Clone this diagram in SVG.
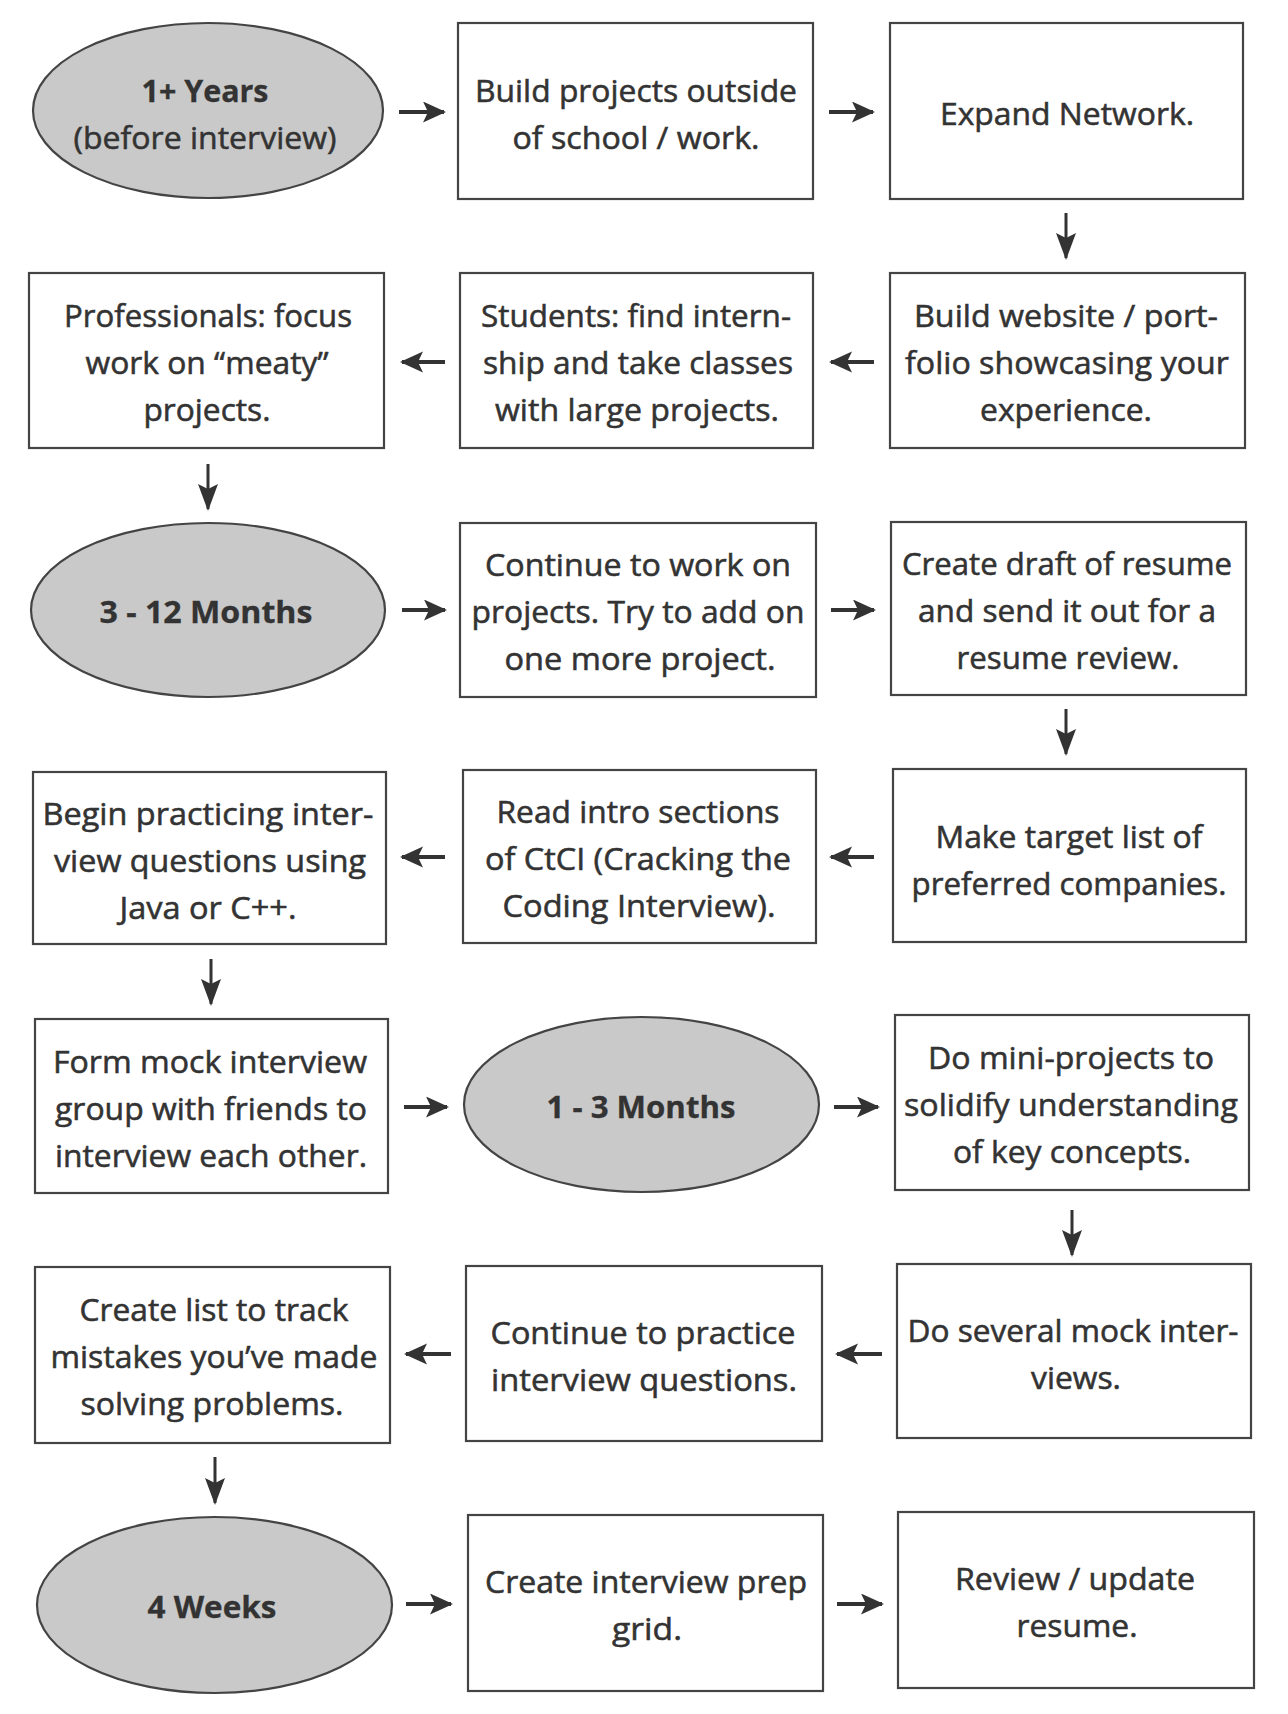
<svg xmlns="http://www.w3.org/2000/svg" width="1288" height="1714" viewBox="0 0 1288 1714">
<style>
.box{fill:#fff;stroke:#444;stroke-width:2.2}
.ell{fill:#c9c9c9;stroke:#444;stroke-width:2.2}
.t{font-family:"Open Sans","Liberation Sans",sans-serif;font-size:31px;fill:#333;stroke:#333;stroke-width:0.55;text-anchor:middle}
.b{font-weight:700;font-size:30px;stroke-width:0.3}
.c{stroke:#333;stroke-width:4;fill:none;marker-end:url(#ah)}
.d{stroke:#333;stroke-width:3;fill:none;marker-end:url(#ahd)}
</style>
<defs>
<marker id="ah" markerUnits="userSpaceOnUse" markerWidth="26" markerHeight="22" refX="21" refY="10.5" orient="auto">
<path d="M0,0 L23,10.5 L0,21 L5,10.5 z" fill="#333"/>
</marker>
<marker id="ahd" markerUnits="userSpaceOnUse" markerWidth="30" markerHeight="22" refX="25" refY="10" orient="auto">
<path d="M0,0 L27,10 L0,20 L5,10 z" fill="#333"/>
</marker>
</defs>
<rect width="1288" height="1714" fill="#fff"/>

<g id="connectors">
<line class="c" x1="399" y1="112" x2="444" y2="112"/>
<line class="c" x1="829" y1="112" x2="873" y2="112"/>
<line class="d" x1="1066" y1="213" x2="1066" y2="258"/>
<line class="c" x1="874" y1="362" x2="831" y2="362"/>
<line class="c" x1="445" y1="362" x2="402" y2="362"/>
<line class="d" x1="208" y1="464" x2="208" y2="509"/>
<line class="c" x1="402" y1="610" x2="445" y2="610"/>
<line class="c" x1="831" y1="610" x2="874" y2="610"/>
<line class="d" x1="1066" y1="709" x2="1066" y2="754"/>
<line class="c" x1="874" y1="857" x2="831" y2="857"/>
<line class="c" x1="445" y1="857" x2="402" y2="857"/>
<line class="d" x1="211" y1="959" x2="211" y2="1004"/>
<line class="c" x1="404" y1="1107" x2="447" y2="1107"/>
<line class="c" x1="834" y1="1107" x2="878" y2="1107"/>
<line class="d" x1="1072" y1="1210" x2="1072" y2="1255"/>
<line class="c" x1="882" y1="1354" x2="837" y2="1354"/>
<line class="c" x1="451" y1="1354" x2="406" y2="1354"/>
<line class="d" x1="215" y1="1457" x2="215" y2="1503"/>
<line class="c" x1="406" y1="1604" x2="451" y2="1604"/>
<line class="c" x1="837" y1="1604" x2="882" y2="1604"/>
</g>

<g id="n1">
<ellipse class="ell" cx="208" cy="110.5" rx="175" ry="87.5"/>
<text class="t b" x="205" y="102" textLength="127" lengthAdjust="spacingAndGlyphs">1+ Years</text>
<text class="t" x="205" y="149" textLength="263" lengthAdjust="spacingAndGlyphs">(before interview)</text>
</g>
<g id="n2">
<rect class="box" x="458" y="23" width="355" height="176"/>
<text class="t" x="636" y="102" textLength="322" lengthAdjust="spacingAndGlyphs">Build projects outside</text>
<text class="t" x="636" y="149" textLength="247" lengthAdjust="spacingAndGlyphs">of school / work.</text>
</g>
<g id="n3">
<rect class="box" x="890" y="23" width="353" height="176"/>
<text class="t" x="1067" y="125" textLength="254" lengthAdjust="spacingAndGlyphs">Expand Network.</text>
</g>

<g id="n4">
<rect class="box" x="890" y="273" width="355" height="175"/>
<text class="t" x="1066" y="327" textLength="304" lengthAdjust="spacingAndGlyphs">Build website / port-</text>
<text class="t" x="1067" y="374" textLength="324" lengthAdjust="spacingAndGlyphs">folio showcasing your</text>
<text class="t" x="1066" y="421" textLength="172" lengthAdjust="spacingAndGlyphs">experience.</text>
</g>
<g id="n5">
<rect class="box" x="460" y="273" width="353" height="175"/>
<text class="t" x="636" y="327" textLength="310" lengthAdjust="spacingAndGlyphs">Students: find intern-</text>
<text class="t" x="638" y="374" textLength="310" lengthAdjust="spacingAndGlyphs">ship and take classes</text>
<text class="t" x="637" y="421" textLength="284" lengthAdjust="spacingAndGlyphs">with large projects.</text>
</g>
<g id="n6">
<rect class="box" x="29" y="273" width="355" height="175"/>
<text class="t" x="208" y="327" textLength="288" lengthAdjust="spacingAndGlyphs">Professionals: focus</text>
<text class="t" x="207" y="374" textLength="243" lengthAdjust="spacingAndGlyphs">work on “meaty”</text>
<text class="t" x="207" y="421" textLength="127" lengthAdjust="spacingAndGlyphs">projects.</text>
</g>

<g id="n7">
<ellipse class="ell" cx="208" cy="610" rx="177" ry="87"/>
<text class="t b" x="206" y="623" textLength="213" lengthAdjust="spacingAndGlyphs">3 - 12 Months</text>
</g>
<g id="n8">
<rect class="box" x="460" y="523" width="356" height="174"/>
<text class="t" x="638" y="576" textLength="306" lengthAdjust="spacingAndGlyphs">Continue to work on</text>
<text class="t" x="638" y="623" textLength="333" lengthAdjust="spacingAndGlyphs">projects. Try to add on</text>
<text class="t" x="640" y="670" textLength="271" lengthAdjust="spacingAndGlyphs">one more project.</text>
</g>
<g id="n9">
<rect class="box" x="891" y="522" width="355" height="173"/>
<text class="t" x="1067" y="575" textLength="330" lengthAdjust="spacingAndGlyphs">Create draft of resume</text>
<text class="t" x="1067" y="622" textLength="298" lengthAdjust="spacingAndGlyphs">and send it out for a</text>
<text class="t" x="1068" y="669" textLength="223" lengthAdjust="spacingAndGlyphs">resume review.</text>
</g>

<g id="n10">
<rect class="box" x="893" y="769" width="353" height="173"/>
<text class="t" x="1069" y="848" textLength="267" lengthAdjust="spacingAndGlyphs">Make target list of</text>
<text class="t" x="1069" y="895" textLength="315" lengthAdjust="spacingAndGlyphs">preferred companies.</text>
</g>
<g id="n11">
<rect class="box" x="463" y="770" width="353" height="173"/>
<text class="t" x="638" y="823" textLength="283" lengthAdjust="spacingAndGlyphs">Read intro sections</text>
<text class="t" x="638" y="870" textLength="306" lengthAdjust="spacingAndGlyphs">of CtCI (Cracking the</text>
<text class="t" x="639" y="917" textLength="273" lengthAdjust="spacingAndGlyphs">Coding Interview).</text>
</g>
<g id="n12">
<rect class="box" x="33" y="772" width="353" height="172"/>
<text class="t" x="208" y="825" textLength="331" lengthAdjust="spacingAndGlyphs">Begin practicing inter-</text>
<text class="t" x="210" y="872" textLength="312" lengthAdjust="spacingAndGlyphs">view questions using</text>
<text class="t" x="208" y="919" textLength="177" lengthAdjust="spacingAndGlyphs">Java or C++.</text>
</g>

<g id="n13">
<rect class="box" x="35" y="1019" width="353" height="174"/>
<text class="t" x="210" y="1073" textLength="314" lengthAdjust="spacingAndGlyphs">Form mock interview</text>
<text class="t" x="211" y="1120" textLength="312" lengthAdjust="spacingAndGlyphs">group with friends to</text>
<text class="t" x="211" y="1167" textLength="312" lengthAdjust="spacingAndGlyphs">interview each other.</text>
</g>
<g id="n14">
<ellipse class="ell" cx="641.5" cy="1104.5" rx="177.5" ry="87.5"/>
<text class="t b" x="641" y="1118" textLength="189" lengthAdjust="spacingAndGlyphs">1 - 3 Months</text>
</g>
<g id="n15">
<rect class="box" x="895" y="1015" width="354" height="175"/>
<text class="t" x="1071" y="1069" textLength="286" lengthAdjust="spacingAndGlyphs">Do mini-projects to</text>
<text class="t" x="1071" y="1116" textLength="334" lengthAdjust="spacingAndGlyphs">solidify understanding</text>
<text class="t" x="1072" y="1163" textLength="238" lengthAdjust="spacingAndGlyphs">of key concepts.</text>
</g>

<g id="n16">
<rect class="box" x="897" y="1264" width="354" height="174"/>
<text class="t" x="1073" y="1342" textLength="331" lengthAdjust="spacingAndGlyphs">Do several mock inter-</text>
<text class="t" x="1076" y="1389" textLength="90" lengthAdjust="spacingAndGlyphs">views.</text>
</g>
<g id="n17">
<rect class="box" x="466" y="1266" width="356" height="175"/>
<text class="t" x="643" y="1344" textLength="305" lengthAdjust="spacingAndGlyphs">Continue to practice</text>
<text class="t" x="644" y="1391" textLength="306" lengthAdjust="spacingAndGlyphs">interview questions.</text>
</g>
<g id="n18">
<rect class="box" x="35" y="1267" width="355" height="176"/>
<text class="t" x="214" y="1321" textLength="269" lengthAdjust="spacingAndGlyphs">Create list to track</text>
<text class="t" x="214" y="1368" textLength="327" lengthAdjust="spacingAndGlyphs">mistakes you’ve made</text>
<text class="t" x="212" y="1415" textLength="263" lengthAdjust="spacingAndGlyphs">solving problems.</text>
</g>

<g id="n19">
<ellipse class="ell" cx="214.5" cy="1605" rx="177.5" ry="88"/>
<text class="t b" x="212" y="1618" textLength="129" lengthAdjust="spacingAndGlyphs">4 Weeks</text>
</g>
<g id="n20">
<rect class="box" x="468" y="1515" width="355" height="176"/>
<text class="t" x="646" y="1593" textLength="322" lengthAdjust="spacingAndGlyphs">Create interview prep</text>
<text class="t" x="647" y="1640" textLength="70" lengthAdjust="spacingAndGlyphs">grid.</text>
</g>
<g id="n21">
<rect class="box" x="898" y="1512" width="356" height="176"/>
<text class="t" x="1075" y="1590" textLength="240" lengthAdjust="spacingAndGlyphs">Review / update</text>
<text class="t" x="1077" y="1637" textLength="121" lengthAdjust="spacingAndGlyphs">resume.</text>
</g>
</svg>
